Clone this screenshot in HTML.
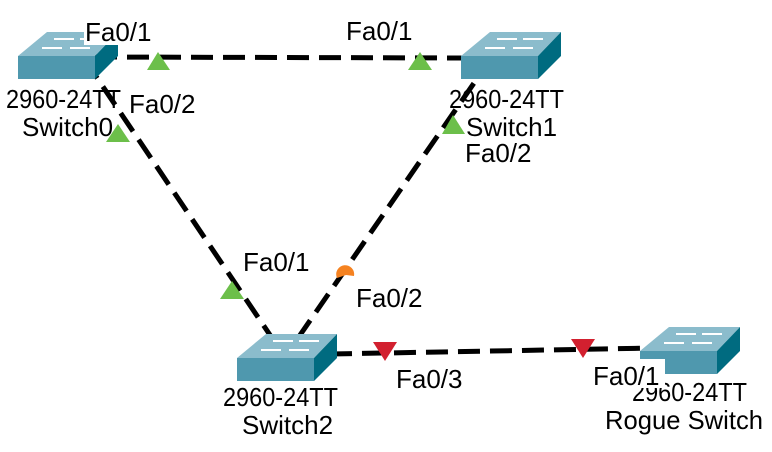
<!DOCTYPE html>
<html><head><style>body{margin:0;background:#fff}svg{display:block}</style></head>
<body>
<svg width="772" height="452" viewBox="0 0 772 452" xmlns="http://www.w3.org/2000/svg">
<defs>
<g id="sw">
<polygon points="29,0 100,0 77,24 0,24" fill="#8bbccc"/>
<rect x="0" y="24" width="77" height="23" fill="#4f98ae"/>
<polygon points="77,24 100,0 100,24 77,47" fill="#006b80"/>
<g stroke="#fff" stroke-width="2">
<line x1="36" y1="7" x2="56" y2="7"/><line x1="62" y1="7" x2="82" y2="7"/>
<line x1="24" y1="16" x2="44" y2="16"/><line x1="52" y1="16" x2="72" y2="16"/>
</g>
</g>
</defs>
<g stroke="#000" stroke-width="5" stroke-dasharray="22,10" fill="none">
<line x1="95" y1="57" x2="470" y2="58"/>
<line x1="85" y1="60" x2="272" y2="338"/>
<line x1="492" y1="57" x2="298" y2="338"/>
<line x1="330" y1="354" x2="655" y2="348"/>
</g>
<use href="#sw" x="18" y="32"/>
<use href="#sw" x="461" y="32"/>
<use href="#sw" x="237" y="334"/>
<use href="#sw" x="640" y="327"/>
<g fill="#6cbf4a">
<polygon points="158,52 147,70 170,70"/>
<polygon points="420,52 408,70 432,70"/>
<polygon points="118,124 106,142 130,142"/>
<polygon points="453,115 442,134 465,134"/>
<polygon points="232,281 220,299 244,299"/>
</g>
<path d="M337,278 A9,9 0 1 1 354,276 L346,275 Z" fill="#f58220"/>
<g fill="#d2202f">
<polygon points="373,342 397,342 385,361"/>
<polygon points="571,339 595,339 583,358"/>
</g>
<g font-family="Liberation Sans, Arial, sans-serif" font-size="26" fill="#000">
<text x="6" y="108" textLength="115" lengthAdjust="spacingAndGlyphs">2960-24TT</text>
<text x="22" y="136">Switch0</text>
<rect x="84" y="17" width="74" height="28" fill="#fff"/><text x="85" y="41">Fa0/1</text>
<rect x="345" y="16" width="72" height="28" fill="#fff"/><text x="346" y="40">Fa0/1</text>
<rect x="128" y="89" width="72" height="28" fill="#fff"/><text x="129" y="113">Fa0/2</text>
<text x="449" y="108" textLength="115" lengthAdjust="spacingAndGlyphs">2960-24TT</text>
<text x="466" y="136">Switch1</text>
<rect x="463" y="138" width="72" height="28" fill="#fff"/><text x="465" y="162">Fa0/2</text>
<text x="243" y="271">Fa0/1</text>
<text x="356" y="307">Fa0/2</text>
<text x="223" y="406" textLength="115" lengthAdjust="spacingAndGlyphs">2960-24TT</text>
<text x="242" y="434">Switch2</text>
<text x="396" y="388">Fa0/3</text>
<text x="632" y="401" textLength="115" lengthAdjust="spacingAndGlyphs">2960-24TT</text>
<text x="605" y="429" textLength="158" lengthAdjust="spacingAndGlyphs">Rogue Switch</text>
<rect x="591" y="359" width="74" height="29" fill="#fff"/><text x="593" y="385">Fa0/1</text>
</g>
</svg>
</body></html>
